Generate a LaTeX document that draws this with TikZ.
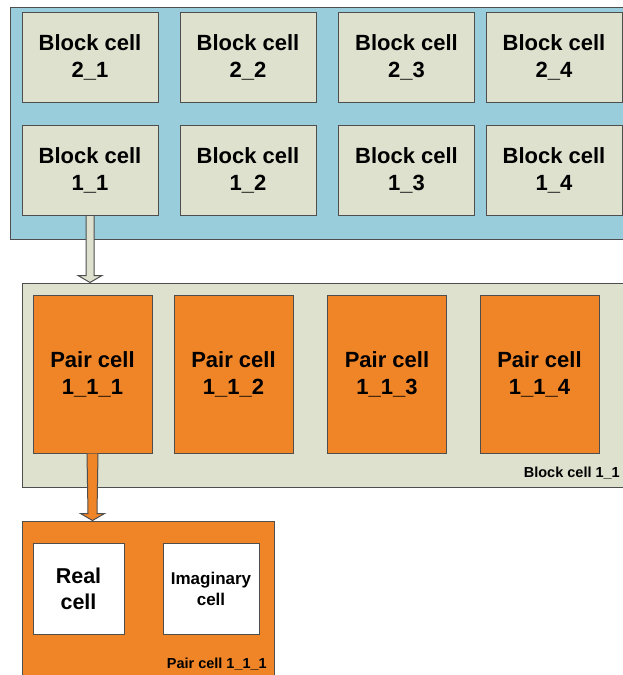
\documentclass[tikz,border=0pt]{standalone}
\usepackage{fontspec}
\setmainfont{Liberation Sans}
\usetikzlibrary{calc}
\definecolor{cellblue}{RGB}{153,205,219}
\definecolor{cellgrey}{RGB}{221,225,205}
\definecolor{cellorange}{RGB}{240,133,40}
\definecolor{cellline}{RGB}{78,78,78}
\tikzset{
  blockcell/.style={draw=cellline,fill=cellgrey,line width=1pt,minimum width=136pt,minimum height=90pt,inner sep=0pt,align=center,font=\fontsize{22}{27}\selectfont\bfseries},
  paircell/.style={draw=cellline,fill=cellorange,line width=1pt,minimum width=119pt,minimum height=158pt,inner sep=0pt,align=center,font=\fontsize{22}{27}\selectfont\bfseries},
  partcell/.style={draw=cellline,fill=white,line width=1pt,minimum height=91pt,inner sep=0pt,align=center},
  frame/.style={draw=cellline,line width=1pt,inner sep=0pt},
  framelabel/.style={inner sep=0pt,anchor=base east,font=\fontsize{14.5}{17}\selectfont\bfseries}
}
\begin{document}
\begin{tikzpicture}[x=1pt,y=-1pt]
\clip (0,0) rectangle (623,675);
\fill[white] (0,0) rectangle (623,675);
% block grid
\node[frame,fill=cellblue,minimum width=620pt,minimum height=232pt] (grid) at (320,123) {};
\node[blockcell] (b21) at (90,57) {Block cell\\2\_1};
\node[blockcell] (b22) at (248,57) {Block cell\\2\_2};
\node[blockcell] (b23) at (406.5,57) {Block cell\\2\_3};
\node[blockcell] (b24) at (554,57) {Block cell\\2\_4};
\node[blockcell] (b11) at (90,170.5) {Block cell\\1\_1};
\node[blockcell] (b12) at (248,170.5) {Block cell\\1\_2};
\node[blockcell] (b13) at (406.5,170.5) {Block cell\\1\_3};
\node[blockcell] (b14) at (554,170.5) {Block cell\\1\_4};
% block cell 1_1
\node[frame,fill=cellgrey,minimum width=608pt,minimum height=204pt] (blk) at (326,385) {};
\node[framelabel] (blklabel) at (620,477) {Block cell 1\_1};
\node[paircell] (p111) at (92.5,374) {Pair cell\\1\_1\_1};
\node[paircell] (p112) at (233.5,374) {Pair cell\\1\_1\_2};
\node[paircell] (p113) at (387,374) {Pair cell\\1\_1\_3};
\node[paircell] (p114) at (539.5,374) {Pair cell\\1\_1\_4};
% pair cell 1_1_1
\node[frame,fill=cellorange,minimum width=252pt,minimum height=170pt] (pair) at (148,606) {};
\node[framelabel] (pairlabel) at (267,668) {Pair cell 1\_1\_1};
\node[partcell,minimum width=91pt,font=\fontsize{21.5}{26}\selectfont\bfseries] (real) at (78.5,588.5) {Real\\cell};
\node[partcell,minimum width=96pt,font=\fontsize{17}{21}\selectfont\bfseries] (imag) at (211,588.5) {Imaginary\\cell};
% arrows
\coordinate (a1s) at (b11.south);
\coordinate (a1e) at (blk.north -| b11.south);
\draw[cellline,fill=cellgrey,line width=1pt,line join=miter]
  ($(a1s)+(-4,0)$) -- ($(a1e)+(-4,-7)$) -- ($(a1e)+(-12,-7)$) -- (a1e)
  -- ($(a1e)+(12,-7)$) -- ($(a1e)+(4,-7)$) -- ($(a1s)+(4,0)$);
\coordinate (a2s) at (p111.south);
\coordinate (a2e) at (pair.north -| p111.south);
\draw[cellline,fill=cellorange,line width=1pt,line join=miter]
  ($(a2s)+(-5.5,0)$) -- ($(a2e)+(-4.5,-7)$) -- ($(a2e)+(-12,-7)$) -- (a2e)
  -- ($(a2e)+(12,-7)$) -- ($(a2e)+(4.5,-7)$) -- ($(a2s)+(5.5,0)$);
\end{tikzpicture}
\end{document}
